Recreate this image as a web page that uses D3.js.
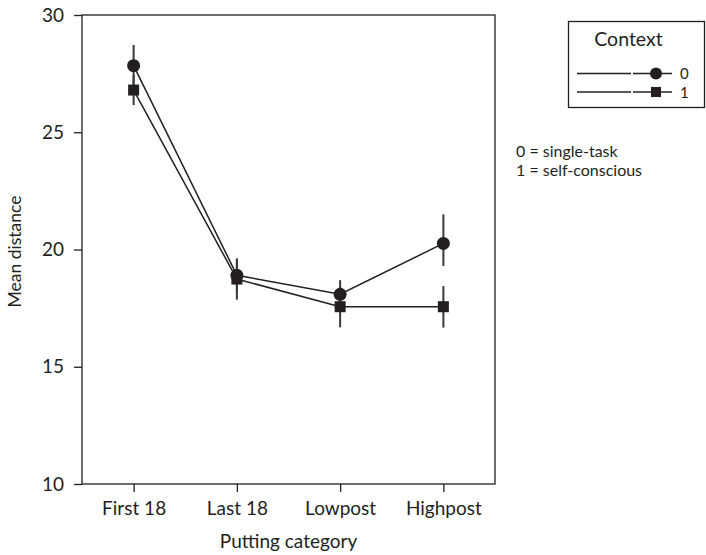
<!DOCTYPE html>
<html>
<head>
<meta charset="utf-8">
<script src="https://cdn.jsdelivr.net/npm/d3@7"></script>
<style>
  html, body { margin: 0; padding: 0; background: #fff; }
  svg text { font-family: Lato, "Open Sans", sans-serif; fill: #231f20; }
</style>
</head>
<body>
<svg id="chart" width="706" height="555"></svg>
<script>
// Putting categories along the x axis
const categories = ["First 18", "Last 18", "Lowpost", "Highpost"];
// Mean distance per context, with error bar bounds
const context0Mean = [27.84, 18.9, 18.09, 20.26];
const context0Low  = [26.96, 18.18, 17.49, 19.3];
const context0High = [28.72, 19.6, 18.69, 21.5];
const context1Mean = [26.8, 18.74, 17.56, 17.56];
const context1Low  = [26.16, 17.86, 16.68, 16.67];
const context1High = [27.44, 19.62, 18.44, 18.44];
const yTicks = [10, 15, 20, 25, 30];
const contextLabels = ["0", "1"];
const contextNotes = ["0 = single-task", "1 = self-conscious"];

const ink = "#231f20";
const fontSize = 19;
const svg = d3.select("#chart");
const plot = { left: 82, right: 495, top: 15, bottom: 484 };

const x = d3.scalePoint().domain(categories).range([plot.left, plot.right]).padding(0.5);
const y = d3.scaleLinear().domain([10, 30]).range([plot.bottom, plot.top]);

// frame
svg.append("rect")
  .attr("x", plot.left).attr("y", plot.top)
  .attr("width", plot.right - plot.left).attr("height", plot.bottom - plot.top)
  .attr("fill", "none").attr("stroke", ink).attr("stroke-width", 1.3);

// axes
const yAxis = svg.append("g").attr("transform", `translate(${plot.left},0)`)
  .call(d3.axisLeft(y).tickValues(yTicks).tickSize(8).tickPadding(10));
const xAxis = svg.append("g").attr("transform", `translate(0,${plot.bottom})`)
  .call(d3.axisBottom(x).tickSize(8).tickPadding(10));
[xAxis, yAxis].forEach(a => {
  a.select(".domain").remove();
  a.selectAll(".tick line").attr("stroke", ink).attr("stroke-width", 1.3);
  a.selectAll(".tick text").attr("font-size", fontSize).attr("fill", ink)
    .style("font-family", "Lato, 'Open Sans', sans-serif");
});

// axis titles
svg.append("text").attr("x", (plot.left + plot.right) / 2).attr("y", 548)
  .attr("text-anchor", "middle").attr("font-size", fontSize).text("Putting category");
svg.append("text").attr("transform", `translate(21,${(plot.top + plot.bottom) / 2 + 2}) rotate(-90)`)
  .attr("text-anchor", "middle").attr("font-size", 17.5).text("Mean distance");

const series = [
  { mean: context0Mean, lo: context0Low, hi: context0High, shape: "circle" },
  { mean: context1Mean, lo: context1Low, hi: context1High, shape: "square" }
];

const line = d3.line().x((d, i) => x(categories[i])).y(d => y(d));

// connecting lines
series.forEach(s => {
  svg.append("path").attr("d", line(s.mean))
    .attr("fill", "none").attr("stroke", ink).attr("stroke-width", 1.5);
});

// error bars
series.forEach(s => {
  svg.append("g").selectAll("line").data(s.mean).join("line")
    .attr("x1", (d, i) => x(categories[i])).attr("x2", (d, i) => x(categories[i]))
    .attr("y1", (d, i) => y(s.lo[i])).attr("y2", (d, i) => y(s.hi[i]))
    .attr("stroke", "#3a3a3a").attr("stroke-width", 2);
});

// markers
function drawMarker(g, shape, cx, cy) {
  if (shape === "circle") {
    g.append("circle").attr("cx", cx).attr("cy", cy).attr("r", 6.5).attr("fill", ink);
  } else {
    g.append("rect").attr("x", cx - 5.5).attr("y", cy - 5.5)
      .attr("width", 11).attr("height", 11).attr("fill", ink);
  }
}
series.forEach(s => {
  const g = svg.append("g");
  s.mean.forEach((v, i) => drawMarker(g, s.shape, x(categories[i]), y(v)));
});

// legend
const lg = svg.append("g");
lg.append("rect").attr("x", 568.5).attr("y", 21.5).attr("width", 136).attr("height", 86)
  .attr("fill", "#fff").attr("stroke", ink).attr("stroke-width", 1.3);
lg.append("text").attr("x", 628.5).attr("y", 46).attr("text-anchor", "middle")
  .attr("font-size", 19.5).text("Context");
series.forEach((s, i) => {
  const ly = 73.5 + i * 18.5;
  lg.append("line").attr("x1", 577).attr("x2", 631).attr("y1", ly).attr("y2", ly)
    .attr("stroke", ink).attr("stroke-width", 1.3);
  lg.append("line").attr("x1", 633).attr("x2", 672).attr("y1", ly).attr("y2", ly)
    .attr("stroke", ink).attr("stroke-width", 1.3);
  const mg = lg.append("g");
  if (s.shape === "circle") {
    mg.append("circle").attr("cx", 656).attr("cy", ly).attr("r", 6).attr("fill", ink);
  } else {
    mg.append("rect").attr("x", 651).attr("y", ly - 5).attr("width", 10).attr("height", 10).attr("fill", ink);
  }
  lg.append("text").attr("x", 680).attr("y", ly + 5.5).attr("font-size", 15).text(contextLabels[i]);
});

// notes beneath the legend
contextNotes.forEach((t, i) => {
  svg.append("text").attr("x", 516).attr("y", 156.5 + i * 19.5).attr("font-size", 16).text(t);
});
</script>
</body>
</html>
